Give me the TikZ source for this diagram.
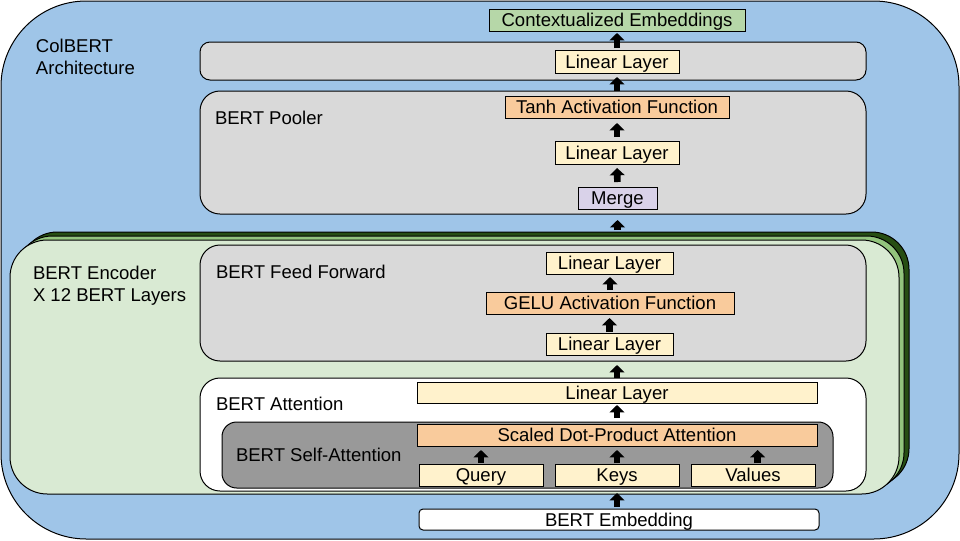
\documentclass[tikz,border=0pt]{standalone}
\usepackage{fontspec}
\setmainfont{Liberation Sans}
\usetikzlibrary{fit,arrows.meta,calc}
\definecolor{cblue}{HTML}{9FC5E8}
\definecolor{cgray}{HTML}{D9D9D9}
\definecolor{cdgray}{HTML}{999999}
\definecolor{cyellow}{HTML}{FFF2CC}
\definecolor{corange}{HTML}{F9CB9C}
\definecolor{cpurple}{HTML}{D9D2E9}
\definecolor{cgreen}{HTML}{B6D7A8}
\definecolor{clgreen}{HTML}{D9EAD3}
\definecolor{cmgreen}{HTML}{93C47D}
\definecolor{cdkgreen}{HTML}{274E13}
\tikzset{
  box/.style={draw=black, line width=0.75pt, inner sep=0pt, outer sep=0pt},
  txt/.style={inner sep=0pt, outer sep=0pt, text depth=0pt, font=\fontsize{13.9}{16.5}\selectfont},
  tbox/.style={box, label={[txt]center:#1}},
  lbl/.style={inner sep=0pt, outer sep=0pt, anchor=base west, font=\fontsize{13.9}{16.5}\selectfont},
  blk/.style={line width=5pt, -{Triangle[width=11pt,length=5.5pt]}, black}
}
\begin{document}
\begin{tikzpicture}[x=0.75pt,y=-0.75pt]
\useasboundingbox (0,0) rectangle (960,540);
% outer
\node[box, fill=cblue, rounded corners=64pt, fit={(1,1)(959,539)}] (outer) {};
\node[lbl, anchor=north west, align=left] (colbert) at (36,39) {ColBERT\\Architecture};
\node[tbox={Contextualized Embeddings}, fill=cgreen, fit={(489,9)(745,31)}] (ctx) {};
% top linear
\node[box, fill=cgray, rounded corners=7.5pt, fit={(200,42)(866,80)}] (topgray) {};
\node[tbox={Linear Layer}, fill=cyellow, fit={(555,50)(679,73)}] (lin3) {};
% pooler
\node[box, fill=cgray, rounded corners=15pt, fit={(200,91)(866,214)}] (pooler) {};
\node[lbl] (poolerlbl) at (215,124) {BERT Pooler};
\node[tbox={Tanh Activation Function}, fill=corange, fit={(505,96)(729,118)}] (tanh) {};
\node[tbox={Linear Layer}, fill=cyellow, fit={(555,141)(679,164)}] (linp) {};
\node[tbox={Merge}, fill=cpurple, fit={(578,187)(657,209)}] (merge) {};
% encoder stack
\node[box, fill=cdkgreen, rounded corners=28pt, fit={(20,232)(909,486)}] (back) {};
\node[box, fill=cmgreen, rounded corners=28pt, fit={(15,236)(904,490)}] (mid) {};
\node[box, fill=clgreen, rounded corners=28pt, fit={(10,240)(899,494)}] (enc) {};
\node[lbl, anchor=north west, align=left] (enclbl) at (33,266) {BERT Encoder\\X 12 BERT Layers};
% feed forward
\node[box, fill=cgray, rounded corners=15pt, fit={(200,245)(866,361)}] (ff) {};
\node[lbl] (fflbl) at (216,278) {BERT Feed Forward};
\node[tbox={Linear Layer}, fill=cyellow, fit={(546,252)(673,274)}] (ffl2) {};
\node[tbox={GELU Activation Function}, fill=corange, fit={(486,292)(734,314)}] (gelu) {};
\node[tbox={Linear Layer}, fill=cyellow, fit={(546,333)(673,355)}] (ffl1) {};
% attention
\node[box, fill=white, rounded corners=15pt, fit={(200,378)(866,491)}] (att) {};
\node[lbl] (attlbl) at (216,410) {BERT Attention};
\node[tbox={Linear Layer}, fill=cyellow, fit={(417,382)(817,403)}] (attl) {};
\node[box, fill=cdgray, rounded corners=11pt, fit={(222,422)(833,488)}] (self) {};
\node[lbl] (selflbl) at (236,461) {BERT Self-Attention};
\node[tbox={Scaled Dot-Product Attention}, fill=corange, fit={(417,424)(817,446)}] (scaled) {};
\node[tbox={Query}, fill=cyellow, fit={(419,464)(543,486)}] (query) {};
\node[tbox={Keys}, fill=cyellow, fit={(555,464)(679,486)}] (keys) {};
\node[tbox={Values}, fill=cyellow, fit={(691,464)(815,486)}] (values) {};
% embedding
\node[tbox={BERT Embedding}, fill=white, rounded corners=3pt, fit={(419,509)(819,530)}] (emb) {};
% arrows
\draw[blk, shorten <=1.5pt, shorten >=1.5pt] (lin3.north -| ctx.south) -- (ctx.south);
\draw[blk, shorten <=3.75pt, shorten >=3pt] (tanh.north) -- (tanh.north |- lin3.south);
\draw[blk, shorten <=3pt, shorten >=3.75pt] (linp.north) -- (tanh.south);
\draw[blk, shorten <=3.75pt, shorten >=3pt] (merge.north) -- (linp.south);
\draw[blk, shorten <=1.5pt, shorten >=4.5pt] (merge.south |- back.north) -- (merge.south |- pooler.south);
\draw[blk, shorten <=1.5pt, shorten >=2.25pt] (gelu.north) -- (gelu.north |- ffl2.south);
\draw[blk, shorten <=0.75pt, shorten >=3pt] (ffl1.north) -- (ffl1.north |- gelu.south);
\draw[blk, shorten <=3pt, shorten >=7.5pt] (attl.north) -- (attl.north |- ffl1.south);
\draw[blk, shorten <=4.5pt, shorten >=1.5pt] (scaled.north) -- (scaled.north |- attl.south);
\draw[blk, shorten <=0.75pt, shorten >=3pt] (query.north) -- (query.north |- scaled.south);
\draw[blk, shorten <=0.75pt, shorten >=3pt] (keys.north) -- (keys.north |- scaled.south);
\draw[blk, shorten <=0.75pt, shorten >=3pt] ([xshift=3.5pt]values.north) -- ([xshift=3.5pt]values.north |- scaled.south);
\draw[blk, shorten <=1.5pt, shorten >=5.25pt] (emb.north -| keys.south) -- (keys.south);
\end{tikzpicture}
\end{document}
